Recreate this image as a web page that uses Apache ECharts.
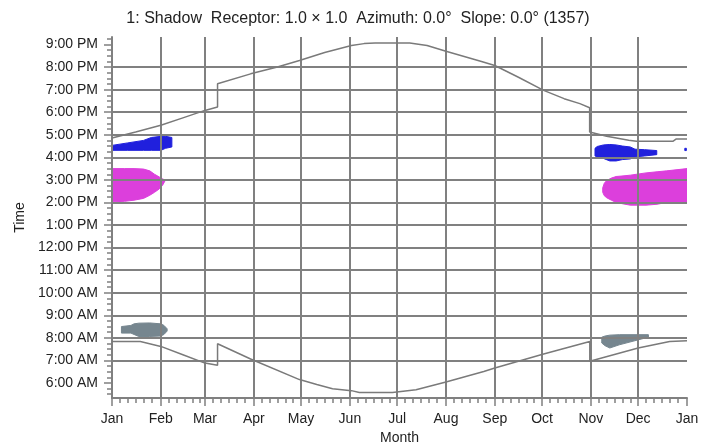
<!DOCTYPE html>
<html>
<head>
<meta charset="utf-8">
<script src="https://cdn.jsdelivr.net/npm/echarts@6/dist/echarts.min.js"></script>
<style>html,body{margin:0;padding:0;background:#fff}#c{width:716px;height:446px}</style>
</head>
<body>
<div id="c"></div>
<script>
// ---- axis definitions ----
const monthStarts = [0, 31, 59, 90, 120, 151, 181, 212, 243, 273, 304, 334, 365];
const monthLabels = ['Jan','Feb','Mar','Apr','May','Jun','Jul','Aug','Sep','Oct','Nov','Dec','Jan'];
const hourTicks = [6,7,8,9,10,11,12,13,14,15,16,17,18,19,20,21];
const quarterTicks = [5.5,5.75,6,6.25,6.5,6.75,7,7.25,7.5,7.75,8,8.25,8.5,8.75,9,9.25,9.5,9.75,10,10.25,10.5,10.75,11,11.25,11.5,11.75,12,12.25,12.5,12.75,13,13.25,13.5,13.75,14,14.25,14.5,14.75,15,15.25,15.5,15.75,16,16.25,16.5,16.75,17,17.25,17.5,17.75,18,18.25,18.5,18.75,19,19.25,19.5,19.75,20,20.25,20.5,20.75,21,21.25];

// ---- sunrise / sunset curves (day of year, hour) ----
const sunsetDays  = [0, 15, 31, 45, 59, 67, 67, 88, 105, 119, 135, 152, 160, 167, 189, 200, 212, 234, 243, 258, 274, 287, 297, 303.2, 303.2, 314, 328, 333, 356, 358, 365];
const sunsetHours = [16.86, 17.12, 17.42, 17.75, 18.08, 18.23, 19.26, 19.70, 20.00, 20.29, 20.65, 20.96, 21.04, 21.07, 21.07, 20.96, 20.70, 20.26, 20.07, 19.55, 18.97, 18.60, 18.38, 18.20, 17.12, 16.93, 16.76, 16.71, 16.71, 16.81, 16.81];
const sunriseDays  = [0, 18, 18, 31, 45, 59, 67, 67, 88, 119, 130, 140, 152, 157, 178, 193, 212, 236, 243, 274, 303.3, 303.3, 334, 354, 365];
const sunriseHours = [7.84, 7.84, 7.77, 7.62, 7.25, 6.88, 6.78, 7.74, 7.06, 6.15, 5.93, 5.74, 5.66, 5.58, 5.58, 5.70, 6.04, 6.51, 6.66, 7.28, 7.84, 6.96, 7.55, 7.84, 7.87];

// ---- shadow periods: day, start hour, end hour ----
const blueJanDays  = [0, 10, 20, 25, 31, 34, 38];
const blueJanStart = [16.31, 16.31, 16.31, 16.31, 16.31, 16.40, 16.46];
const blueJanEnd   = [16.53, 16.64, 16.75, 16.88, 16.93, 16.93, 16.88];

const pinkJanDays  = [0, 8, 14, 20, 24, 27, 30, 32, 33.6];
const pinkJanStart = [14.03, 14.05, 14.10, 14.18, 14.32, 14.45, 14.60, 14.75, 14.95];
const pinkJanEnd   = [15.50, 15.50, 15.50, 15.48, 15.40, 15.25, 15.13, 15.05, 14.99];

const greyJanDays  = [6, 12, 14, 17, 24, 31, 33, 35];
const greyJanStart = [8.21, 8.21, 8.15, 8.06, 8.06, 8.08, 8.15, 8.30];
const greyJanEnd   = [8.50, 8.55, 8.62, 8.65, 8.66, 8.62, 8.55, 8.40];

const blueNovDays  = [306.6, 308, 312, 316, 320, 324, 329, 332, 338, 345.8];
const blueNovStart = [16.06, 16.02, 15.95, 15.84, 15.84, 15.90, 15.93, 16.02, 16.06, 16.12];
const blueNovEnd   = [16.40, 16.48, 16.55, 16.57, 16.55, 16.50, 16.46, 16.36, 16.34, 16.30];

const blueDecDays  = [363.6, 364.6];
const blueDecStart = [16.30, 16.30];
const blueDecEnd   = [16.40, 16.40];

const pinkNovDays  = [311.5, 312.5, 314, 317, 320, 325, 329, 339, 346, 352, 365];
const pinkNovStart = [14.45, 14.30, 14.21, 14.10, 14.00, 13.93, 13.88, 13.88, 13.92, 14.00, 14.00];
const pinkNovEnd   = [14.65, 14.85, 14.97, 15.08, 15.15, 15.18, 15.21, 15.31, 15.36, 15.40, 15.50];

const greyNovDays  = [310.9, 313, 316, 322, 334, 340.5];
const greyNovStart = [7.77, 7.65, 7.55, 7.69, 7.91, 8.03];
const greyNovEnd   = [8.03, 8.08, 8.12, 8.14, 8.14, 8.14];

const COL_BLUE = '#2020dd';
const COL_PINK = '#dc3fdc';
const COL_GREY = '#76868f';
const COL_GRID = '#808080';
const COL_TEXT = '#222222';
const FONT = 'Liberation Sans';

function band(name, days, start, end, color) {
  return {
    name: name, type: 'custom', z: 1, silent: true, clip: true,
    data: [[days[0], start[0]]],
    renderItem: function (params, api) {
      const pts = [];
      for (let i = 0; i < days.length; i++) pts.push(api.coord([days[i], end[i]]));
      for (let i = days.length - 1; i >= 0; i--) pts.push(api.coord([days[i], start[i]]));
      return {
        type: 'polygon',
        shape: { points: pts },
        style: { fill: color, stroke: color, lineWidth: 1 }
      };
    }
  };
}

const minorDays = [];
monthStarts.slice(0, 12).forEach(m => [5, 10, 15, 20, 25].forEach(o => minorDays.push(m + o)));

function hourLabel(h) {
  if (h < 12) return h + ':00 AM';
  if (h === 12) return '12:00 PM';
  return (h - 12) + ':00 PM';
}

const chart = echarts.init(document.getElementById('c'), null, { renderer: 'canvas' });
const series = [
  band('pinkJan', pinkJanDays, pinkJanStart, pinkJanEnd, COL_PINK),
  band('blueJan', blueJanDays, blueJanStart, blueJanEnd, COL_BLUE),
  band('greyJan', greyJanDays, greyJanStart, greyJanEnd, COL_GREY),
  band('pinkNov', pinkNovDays, pinkNovStart, pinkNovEnd, COL_PINK),
  band('blueNov', blueNovDays, blueNovStart, blueNovEnd, COL_BLUE),
  band('blueDec', blueDecDays, blueDecStart, blueDecEnd, COL_BLUE),
  band('greyNov', greyNovDays, greyNovStart, greyNovEnd, COL_GREY),
  { name: 'sunset', type: 'line', symbol: 'none', z: 5, silent: true,
    lineStyle: { color: '#7a7a7a', width: 1.5 },
    data: sunsetDays.map((d, i) => [d, sunsetHours[i]]) },
  { name: 'sunrise', type: 'line', symbol: 'none', z: 5, silent: true,
    lineStyle: { color: '#7a7a7a', width: 1.5 },
    data: sunriseDays.map((d, i) => [d, sunriseHours[i]]) }
];

chart.setOption({
  animation: false,
  backgroundColor: '#ffffff',
  title: {
    text: '1: Shadow  Receptor: 1.0 × 1.0  Azimuth: 0.0°  Slope: 0.0° (1357)',
    left: 'center', top: 6,
    textStyle: { fontFamily: FONT, fontSize: 16, fontWeight: 'normal', color: COL_TEXT }
  },
  grid: { left: 112, right: 29, top: 37, bottom: 48, containLabel: false, outerBoundsMode: 'none' },
  xAxis: [
    {
      type: 'value', min: 0, max: 365, z: 3,
      name: 'Month', nameLocation: 'middle', nameGap: 32,
      nameTextStyle: { fontFamily: FONT, fontSize: 14, color: COL_TEXT },
      axisLine: { show: true, onZero: false, lineStyle: { color: COL_GRID, width: 2 } },
      axisTick: { show: true, customValues: monthStarts, length: 8, lineStyle: { color: COL_GRID, width: 1.5 } },
      axisLabel: { customValues: monthStarts, margin: 14, fontFamily: FONT, fontSize: 14, color: COL_TEXT,
        formatter: v => monthLabels[monthStarts.indexOf(v)] },
      splitLine: { show: true, showMinLine: false, showMaxLine: false, lineStyle: { color: COL_GRID, width: 2 } }
    },
    {
      type: 'value', min: 0, max: 365, position: 'bottom', offset: 0, z: 3,
      axisLine: { show: false },
      axisTick: { show: true, customValues: minorDays, length: 5, lineStyle: { color: COL_GRID, width: 1.5 } },
      axisLabel: { show: false },
      splitLine: { show: false }
    }
  ],
  yAxis: [
    {
      type: 'value', min: 16 / 3, max: 64 / 3, z: 3,
      name: 'Time', nameLocation: 'middle', nameGap: 80, nameRotate: 90,
      nameTextStyle: { fontFamily: FONT, fontSize: 14, color: COL_TEXT },
      axisLine: { show: true, onZero: false, lineStyle: { color: COL_GRID, width: 2 } },
      axisTick: { show: true, customValues: hourTicks, length: 8, lineStyle: { color: COL_GRID, width: 1.5 } },
      axisLabel: { customValues: hourTicks, margin: 14, fontFamily: FONT, fontSize: 14, color: COL_TEXT,
        formatter: v => hourLabel(v) },
      splitLine: { show: true, showMinLine: false, showMaxLine: false, lineStyle: { color: COL_GRID, width: 2 } }
    },
    {
      type: 'value', min: 16 / 3, max: 64 / 3, position: 'left', offset: 0, z: 3,
      axisLine: { show: false },
      axisTick: { show: true, customValues: quarterTicks, length: 5, lineStyle: { color: COL_GRID, width: 1.5 } },
      axisLabel: { show: false },
      splitLine: { show: false }
    }
  ],
  series: series
});
</script>
</body>
</html>
